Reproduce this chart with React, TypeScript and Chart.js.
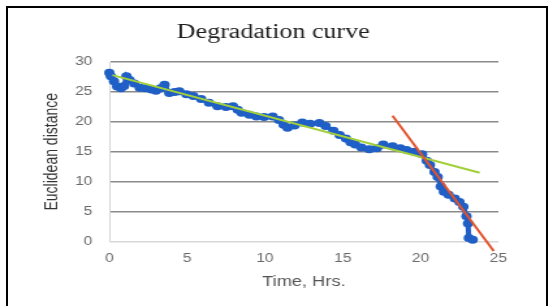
import React, { useEffect, useRef } from "react";
import { Chart, registerables } from "chart.js";

Chart.register(...registerables);

// ---- text ----
const TITLE = "Degradation curve";
const X_TITLE = "Time, Hrs.";
const Y_TITLE = "Euclidean distance";

// ---- tick labels ----
const X_TICKS = [0, 5, 10, 15, 20, 25];
const Y_TICKS = [0, 5, 10, 15, 20, 25, 30];

// ---- measured series (Euclidean distance vs time) ----
const timeHrs = [
  0, 0.1, 0.3, 0.5, 0.75, 0.95, 1.1, 1.3, 1.6, 1.95,
  2.3, 2.7, 3.0, 3.3, 3.55, 3.85, 4.2, 4.5, 4.95, 5.4,
  5.9, 6.4, 6.95, 7.5, 7.95, 8.25, 8.5, 9.0, 9.45, 9.95,
  10.5, 10.9, 11.2, 11.45, 11.9, 12.4, 12.9, 13.5, 13.9, 14.4,
  14.8, 15.2, 15.5, 15.8, 16.2, 16.7, 17.2, 17.6, 18.2, 18.7,
  19.1, 19.6, 20.1, 20.4, 20.6, 20.9, 21.1, 21.3, 21.5, 21.8,
  22.2, 22.5, 22.75, 22.95, 23.05, 23.1, 23.35,
];
const distance = [
  28.2, 27.6, 26.8, 25.9, 25.6, 26.0, 27.6, 27.0, 26.4, 25.7,
  25.6, 25.4, 25.2, 25.6, 26.2, 24.8, 25.0, 25.1, 24.6, 24.3,
  23.8, 23.2, 22.6, 22.5, 22.6, 22.0, 21.5, 21.2, 20.9, 20.8,
  20.9, 20.3, 19.5, 19.0, 19.4, 19.9, 19.7, 19.8, 19.3, 18.5,
  17.8, 17.2, 16.6, 16.2, 15.7, 15.4, 15.6, 16.2, 15.9, 15.6,
  15.3, 15.0, 14.6, 13.5, 12.8, 11.6, 10.8, 9.2, 8.3, 7.8,
  7.2, 6.6, 5.8, 4.2, 3.0, 0.6, 0.3,
];

// ---- trend lines ----
const greenTrendX = [0.2, 23.8];
const greenTrendY = [27.8, 11.5];
const redTrendX = [18.2, 24.7];
const redTrendY = [21.0, -1.6];

// ---- page geometry (reference image is stretched horizontally) ----
const W = 553;
const H = 306;
const STRETCH = 1.3;
const CW = Math.round(W / STRETCH);

const toPts = (xs: number[], ys: number[]) => xs.map((x, i) => ({ x, y: ys[i] }));

const textPlugin = {
  id: "chartTexts",
  afterDraw(chart: any) {
    const { ctx, chartArea } = chart;
    ctx.save();
    ctx.textAlign = "center";
    ctx.fillStyle = "#1e1e1e";
    ctx.font = '20px "Liberation Serif"';
    ctx.textBaseline = "alphabetic";
    ctx.fillText(TITLE, 210, 38);

    ctx.fillStyle = "#555555";
    ctx.font = '14px "Liberation Sans"';
    ctx.textBaseline = "middle";
    ctx.fillText(X_TITLE, (chartArea.left + chartArea.right) / 2, 282);

    ctx.fillStyle = "#333333";
    ctx.translate(40.5, (chartArea.top + chartArea.bottom) / 2);
    ctx.rotate(-Math.PI / 2);
    ctx.fillText(Y_TITLE, 0, 0);
    ctx.restore();
  },
};

export default function App() {
  const ref = useRef<HTMLCanvasElement | null>(null);

  useEffect(() => {
    const canvas = ref.current;
    if (!canvas) return;
    const chart = new Chart(canvas, {
      type: "scatter",
      data: {
        datasets: [
          {
            label: "Degradation",
            data: toPts(timeHrs, distance),
            showLine: true,
            borderColor: "#1f5fc6",
            backgroundColor: "#1f5fc6",
            borderWidth: 4,
            pointRadius: 4,
            pointBorderWidth: 0,
            clip: false,
            order: 2,
          },
          {
            label: "Trend 1",
            data: toPts(greenTrendX, greenTrendY),
            showLine: true,
            borderColor: "#a2cf3a",
            borderWidth: 2,
            pointRadius: 0,
            order: 1,
          },
          {
            label: "Trend 2",
            data: toPts(redTrendX, redTrendY),
            showLine: true,
            borderColor: "#e2532c",
            borderWidth: 2,
            pointRadius: 0,
            clip: false,
            order: 0,
          },
        ],
      },
      options: {
        responsive: false,
        animation: false,
        events: [],
        layout: { padding: { left: 0, right: CW - 383, top: 62, bottom: 0 } },
        plugins: {
          legend: { display: false },
          tooltip: { enabled: false },
          title: { display: false },
        },
        scales: {
          x: {
            type: "linear",
            min: 0,
            max: 25,
            afterBuildTicks: (s: any) => {
              s.ticks = X_TICKS.map((v) => ({ value: v }));
            },
            afterFit: (s: any) => {
              s.height = 64.5;
            },
            grid: { display: false, drawTicks: false },
            border: { display: false },
            ticks: {
              padding: 10,
              color: "#6a6a6a",
              font: { family: '"Liberation Sans"', size: 12 },
              maxRotation: 0,
            },
          },
          y: {
            type: "linear",
            min: 0,
            max: 30,
            afterBuildTicks: (s: any) => {
              s.ticks = Y_TICKS.map((v) => ({ value: v }));
            },
            afterFit: (s: any) => {
              s.width = 84;
            },
            grid: {
              drawTicks: false,
              lineWidth: 1.4,
              color: (c: any) => (c.tick && c.tick.value === 0 ? "#d6d6d6" : "#8a8a8a"),
            },
            border: { display: true, color: "#d6d6d6", width: 1 },
            ticks: {
              padding: 13,
              color: "#6a6a6a",
              font: { family: '"Liberation Sans"', size: 12 },
            },
          },
        },
      },
      plugins: [textPlugin],
    });
    return () => chart.destroy();
  }, []);

  return (
    <div
      style={{
        position: "fixed",
        left: 0,
        top: 0,
        width: W,
        height: H,
        overflow: "hidden",
        background: "#ffffff",
      }}
    >
      <canvas
        ref={ref}
        width={CW}
        height={H}
        style={{ position: "absolute", left: 0, top: 0, width: W + "px", height: H + "px" }}
      />
      <div
        style={{
          position: "absolute",
          left: 6,
          top: 6,
          width: 542,
          height: 330,
          border: "2px solid #000",
          boxSizing: "border-box",
          pointerEvents: "none",
        }}
      />
    </div>
  );
}
